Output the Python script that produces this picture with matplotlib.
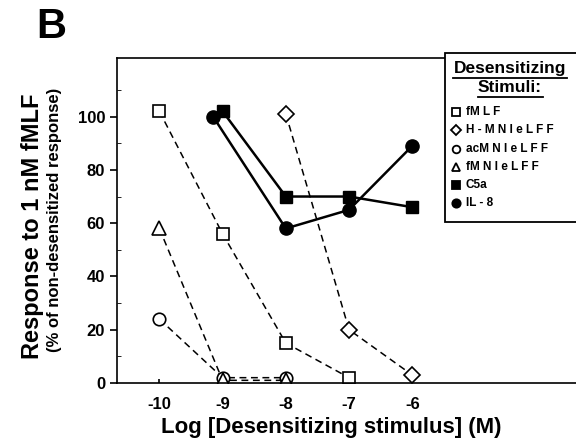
import matplotlib.pyplot as plt
from matplotlib.lines import Line2D
from matplotlib.patches import Rectangle

plt.rcParams['font.family'] = ['Liberation Sans', 'DejaVu Sans']
plt.rcParams['font.weight'] = 'bold'

# log concentration of desensitizing stimulus (M) and % response
fmlf_x = [-10, -9, -8, -7]
fmlf_y = [102, 56, 15, 2]
hmn_x = [-8, -7, -6]
hmn_y = [101, 20, 3]
acmn_x = [-10, -9, -8]
acmn_y = [24, 2, 2]
fmn_x = [-10, -9, -8]
fmn_y = [58, 1, 1]
c5a_x = [-9, -8, -7, -6]
c5a_y = [102, 70, 70, 66]
il8_x = [-9.15, -8, -7, -6]
il8_y = [100, 58, 65, 89]

leg_labels = ["fM L F", "H - M N l e L F F", "acM N l e L F F", "fM N l e L F F", "C5a", "IL - 8"]

W, H = 576, 446
fig = plt.figure(figsize=(W / 100, H / 100), dpi=100)
ax = fig.add_axes([117 / W, 1 - 383 / H, 0.82, (383 - 58) / H])

dash = dict(color='black', lw=1.1, linestyle=(0, (4.5, 3)), mfc='white', mec='black', mew=1.2)
solid = dict(color='black', lw=1.8, mfc='black', mec='black')
ax.plot(fmlf_x, fmlf_y, marker='s', ms=8.5, **dash)
ax.plot(hmn_x, hmn_y, marker='D', ms=8, **dash)
ax.plot(acmn_x, acmn_y, marker='o', ms=9, **dash)
ax.plot(fmn_x, fmn_y, marker='^', ms=9.5, **dash)
ax.plot(c5a_x, c5a_y, marker='s', ms=8.5, **solid)
ax.plot(il8_x, il8_y, marker='o', ms=9.5, **solid)

ax.set_xlim(-10.67, -3.2)
ax.set_ylim(0, 122)
ax.set_xticks([-10, -9, -8, -7, -6])
ax.set_xticklabels(["-10", "-9", "-8", "-7", "-6"])
ax.set_yticks([0, 20, 40, 60, 80, 100])
ax.set_yticks(range(10, 120, 20), minor=True)
ax.tick_params(axis='both', labelsize=12, width=1.2, length=5)
ax.tick_params(axis='x', direction='in', length=3, pad=10)
ax.tick_params(axis='y', which='minor', direction='in', length=3)
for lab in ax.get_xticklabels() + ax.get_yticklabels():
    lab.set_fontweight('bold')
for s in ax.spines.values():
    s.set_linewidth(1.2)
ax.spines['right'].set_visible(False)

fig.text(331 / W, 1 - 428 / H, "Log [Desensitizing stimulus] (M)", fontsize=16,
         fontweight='bold', ha='center', va='center')
fig.text(33 / W, 1 - 226 / H, "Response to 1 nM fMLF", rotation=90, fontsize=17,
         fontweight='bold', ha='center', va='center')
fig.text(55 / W, 1 - 220 / H, "(% of non-desensitized response)", rotation=90, fontsize=12,
         fontweight='bold', ha='center', va='center')
fig.text(51 / W, 1 - 27 / H, "B", fontsize=30, fontweight='bold', ha='center', va='center')

# legend box
def fx(px):
    return px / W

def fy(py):
    return 1 - py / H

fig.add_artist(Rectangle((fx(445), fy(222)), fx(140), (222 - 53) / H, transform=fig.transFigure,
                         facecolor='white', edgecolor='black', lw=1.3, zorder=5))
fig.text(fx(510), fy(69), "Desensitizing", fontsize=12.5, fontweight='bold', ha='center', va='center', zorder=6)
fig.text(fx(510), fy(88), "Stimuli:", fontsize=12.5, fontweight='bold', ha='center', va='center', zorder=6)
fig.add_artist(Line2D([fx(453), fx(567)], [fy(78), fy(78)], color='black', lw=1.3, zorder=6))
fig.add_artist(Line2D([fx(478), fx(543)], [fy(97), fy(97)], color='black', lw=1.3, zorder=6))

markers = [('s', 'white', 5.5), ('D', 'white', 5), ('o', 'white', 5.5), ('^', 'white', 6),
           ('s', 'black', 5.5), ('o', 'black', 6)]
for i, (lab, (m, fc, ms)) in enumerate(zip(leg_labels, markers)):
    yy = 112 + i * 18.3
    fig.add_artist(Line2D([fx(456)], [fy(yy)], marker=m, ms=ms, mfc=fc, mec='black', mew=1.3,
                          linestyle='none', zorder=6))
    fig.text(fx(466), fy(yy), lab, fontsize=8.5, fontweight='bold', ha='left', va='center', zorder=6)

fig.savefig("out.png", dpi=100)
